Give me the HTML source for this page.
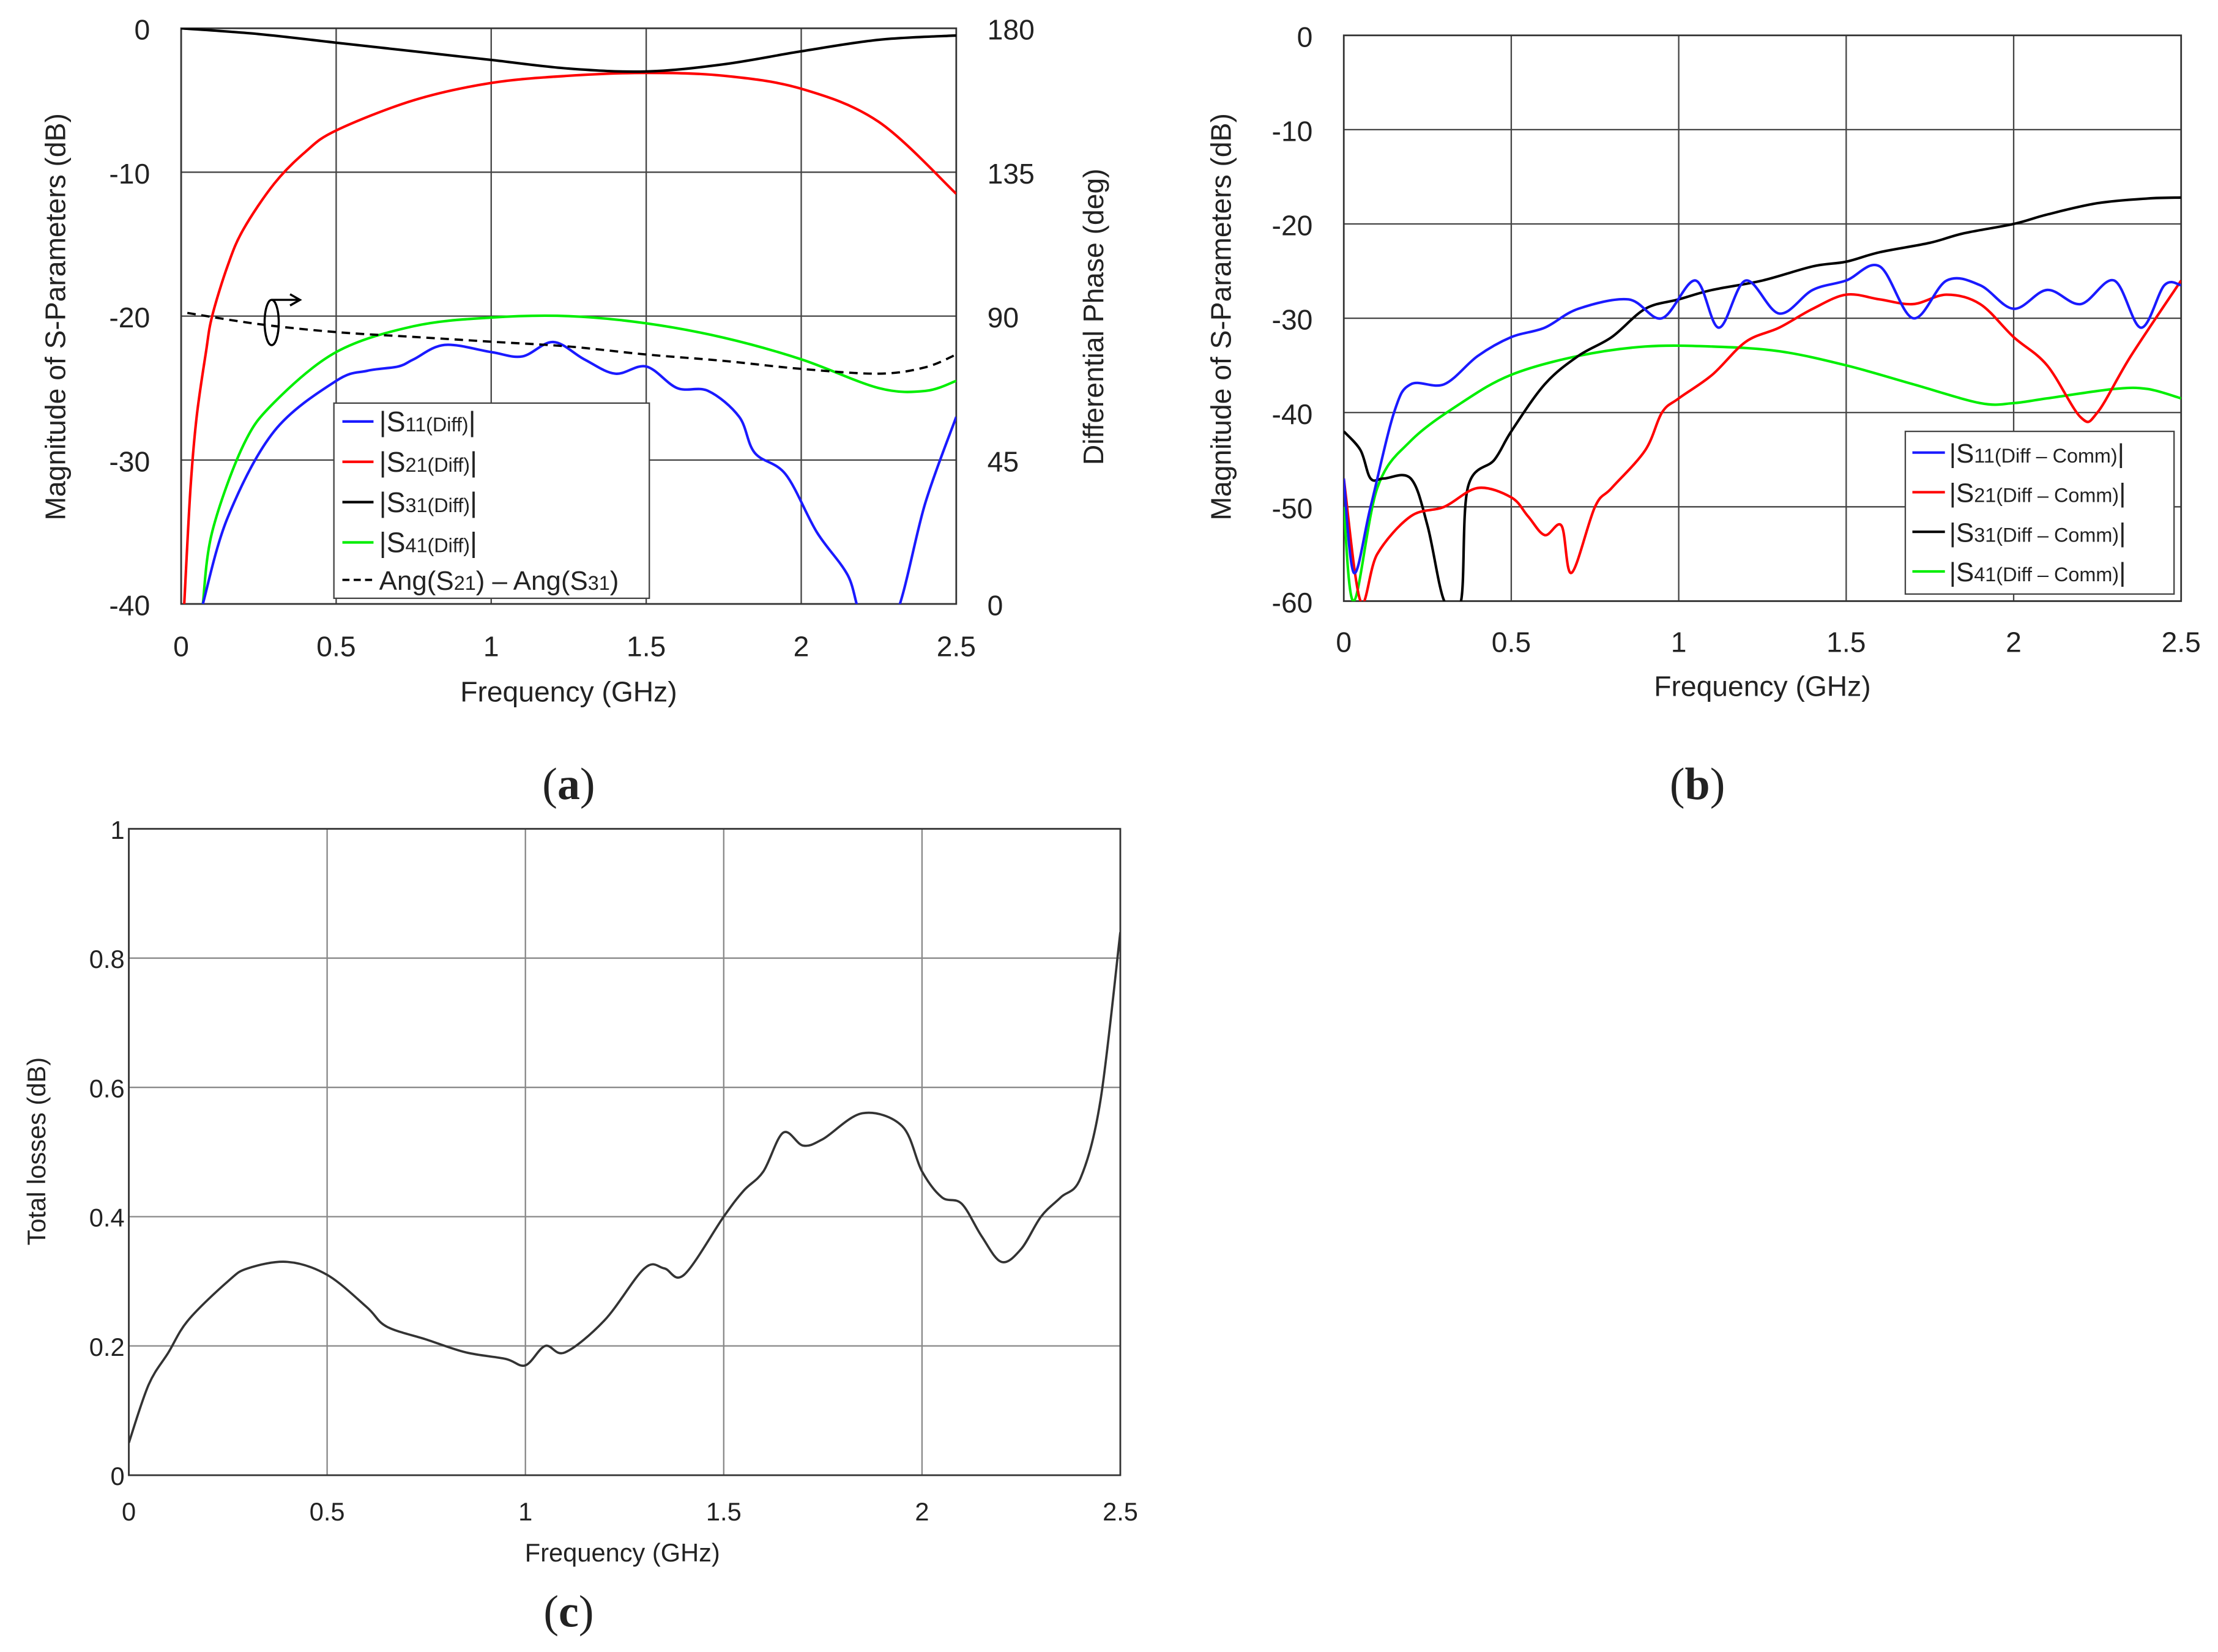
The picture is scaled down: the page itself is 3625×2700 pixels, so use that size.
<!DOCTYPE html>
<html><head><meta charset="utf-8"><style>
html,body{margin:0;padding:0;background:#fff;}
svg{display:block;}
text{font-family:"Liberation Sans",Arial,sans-serif;fill:#222;}
text.serif{font-family:"Liberation Serif","Times New Roman",serif;}
</style></head><body>
<svg id="fig" width="3625" height="2700" viewBox="0 0 1568 1168" xmlns="http://www.w3.org/2000/svg"></svg>
<script>
// ---- chart (a) data ----
const aS21X=[0.01,0.03,0.05,0.08,0.1,0.15,0.2,0.3,0.4,0.5,0.75,1.0,1.25,1.5,1.75,2.0,2.25,2.5];
const aS21Y=[-40,-32,-27,-22.5,-20,-16.5,-14,-10.8,-8.6,-7.1,-5,-3.8,-3.3,-3.1,-3.3,-4.2,-6.5,-11.5];
const aS31X=[0,0.25,0.5,0.75,1.0,1.25,1.5,1.75,2.0,2.25,2.5];
const aS31Y=[0,-0.4,-1,-1.6,-2.2,-2.8,-3.0,-2.5,-1.6,-0.8,-0.5];
const aS41X=[0.07,0.1,0.2,0.3,0.5,0.75,1.0,1.25,1.5,1.75,2.0,2.25,2.4,2.5];
const aS41Y=[-40,-35,-29,-26,-22.5,-20.7,-20.1,-20,-20.5,-21.5,-23,-25,-25.2,-24.5];
const aS11X=[0.07,0.15,0.3,0.5,0.6,0.7,0.75,0.85,1.0,1.1,1.2,1.3,1.4,1.5,1.6,1.7,1.8,1.85,1.95,2.05,2.15,2.2,2.3,2.4,2.5];
const aS11Y=[-40,-34,-28,-24.5,-23.8,-23.5,-23,-22,-22.5,-22.8,-21.8,-23,-24,-23.5,-25,-25.2,-27,-29.5,-31,-35,-38,-41,-41,-33,-27];
const aPhX=[0.02,0.25,0.5,0.75,1.0,1.25,1.5,1.75,2.0,2.25,2.4,2.5];
const aPhY=[91,87.5,85,83.5,82,80.5,78,76,73.5,72,74,78];
const aXTicks=["0","0.5","1","1.5","2","2.5"];
const aYTicks=["0","-10","-20","-30","-40"];
const aY2Ticks=["180","135","90","45","0"];
// ---- chart (b) data ----
const bS11X=[0,0.03,0.08,0.15,0.2,0.3,0.4,0.5,0.6,0.7,0.85,0.95,1.05,1.12,1.2,1.3,1.4,1.5,1.6,1.7,1.8,1.9,2.0,2.1,2.2,2.3,2.38,2.45,2.5];
const bS11Y=[-47,-57,-50,-40,-37,-37,-34,-32,-31,-29,-28,-30,-26,-31,-26,-29.5,-27,-26,-24.5,-30,-26,-26.5,-29,-27,-28.5,-26,-31,-26.5,-26.5];
const bS21X=[0,0.05,0.1,0.2,0.3,0.4,0.5,0.55,0.6,0.65,0.68,0.75,0.8,0.9,0.95,1.0,1.1,1.2,1.3,1.4,1.5,1.6,1.7,1.8,1.9,2.0,2.1,2.2,2.25,2.35,2.5];
const bS21Y=[-47,-60,-55,-51,-50,-48,-49,-51,-53,-52,-57,-50,-48,-44,-40,-38.5,-36,-32.5,-31,-29,-27.5,-28,-28.5,-27.5,-28.5,-32,-35,-40.5,-40,-34,-26];
const bS31X=[0,0.05,0.08,0.12,0.2,0.25,0.3,0.35,0.37,0.45,0.5,0.6,0.7,0.8,0.9,1.0,1.1,1.25,1.4,1.5,1.6,1.75,1.85,2.0,2.1,2.25,2.4,2.5];
const bS31Y=[-42,-44,-47,-47,-47,-52,-60,-60,-48,-45,-42,-37,-34,-32,-29,-28,-27,-26,-24.5,-24,-23,-22,-21,-20,-19,-17.8,-17.3,-17.2];
const bS41X=[0,0.03,0.1,0.2,0.35,0.5,0.7,0.9,1.1,1.3,1.5,1.7,1.9,2.0,2.1,2.3,2.4,2.5];
const bS41Y=[-50,-60,-48,-43,-39,-36,-34,-33,-33,-33.5,-35,-37,-39,-39,-38.5,-37.5,-37.5,-38.5];
const bXTicks=["0","0.5","1","1.5","2","2.5"];
const bYTicks=["0","-10","-20","-30","-40","-50","-60"];
// ---- chart (c) data ----
const cX=[0,0.05,0.1,0.15,0.25,0.3,0.4,0.5,0.6,0.65,0.75,0.85,0.95,1.0,1.05,1.1,1.2,1.3,1.35,1.4,1.5,1.55,1.6,1.65,1.7,1.75,1.85,1.95,2.0,2.05,2.1,2.15,2.2,2.25,2.3,2.35,2.4,2.45,2.5];
const cY=[0.05,0.14,0.19,0.24,0.30,0.32,0.33,0.31,0.26,0.23,0.21,0.19,0.18,0.17,0.2,0.19,0.24,0.32,0.32,0.31,0.4,0.44,0.47,0.53,0.51,0.52,0.56,0.54,0.47,0.43,0.42,0.37,0.33,0.35,0.4,0.43,0.46,0.58,0.84];
const cXTicks=["0","0.5","1","1.5","2","2.5"];
const cYTicks=["0","0.2","0.4","0.6","0.8","1"];

const NS="http://www.w3.org/2000/svg";
const svg=document.getElementById('fig');
function mk(tag,attrs,parent){const e=document.createElementNS(NS,tag);for(const k in attrs)e.setAttribute(k,attrs[k]);(parent||svg).appendChild(e);return e;}
function txt(s,x,y,size,anchor,parent,rot){const t=mk('text',{x:x,y:y,'font-size':size,'text-anchor':anchor||'middle'},parent);if(rot)t.setAttribute('transform','rotate(-90 '+x+' '+y+')');t.textContent=s;return t;}

function panel(name,L,T,R,B,xmin,xmax,ymin,ymax,nx,ny,gridColor){
  const g=mk('g',{});
  
  
  const sx=v=>L+(v-xmin)/(xmax-xmin)*(R-L);
  const sy=v=>B-(v-ymin)/(ymax-ymin)*(B-T);
  for(let i=0;i<=nx;i++){const x=L+i*(R-L)/nx;mk('line',{x1:x,y1:T,x2:x,y2:B,stroke:gridColor,'stroke-width':1},g);}
  for(let j=0;j<=ny;j++){const y=T+j*(B-T)/ny;mk('line',{x1:L,y1:y,x2:R,y2:y,stroke:gridColor,'stroke-width':1},g);}
  const fr=mk('rect',{x:L,y:T,width:R-L,height:B-T,fill:'none',stroke:'#333','stroke-width':1.2},g);
  
  
  const cid=name+'-clip';
  const cp=mk('clipPath',{id:cid},g);mk('rect',{x:L,y:T,width:R-L,height:B-T},cp);
  return {g,sx,sy,cid};
}
function series(p,xs,ys,color,name,width,dash){
  const P=xs.map((x,i)=>[p.sx(x),p.sy(ys[i])]);
  let d='M'+P[0][0].toFixed(2)+','+P[0][1].toFixed(2);
  const t=0.5/3;
  for(let i=0;i<P.length-1;i++){
    const p0=P[Math.max(0,i-1)],p1=P[i],p2=P[i+1],p3=P[Math.min(P.length-1,i+2)];
    const c1=[p1[0]+(p2[0]-p0[0])*t,p1[1]+(p2[1]-p0[1])*t];
    const c2=[p2[0]-(p3[0]-p1[0])*t,p2[1]-(p3[1]-p1[1])*t];
    d+='C'+c1[0].toFixed(2)+','+c1[1].toFixed(2)+' '+c2[0].toFixed(2)+','+c2[1].toFixed(2)+' '+p2[0].toFixed(2)+','+p2[1].toFixed(2);
  }
  const e=mk('path',{d:d,fill:'none',stroke:color,'stroke-width':width||1.8,'clip-path':'url(#'+p.cid+')','stroke-linejoin':'round'},p.g);
  if(dash)e.setAttribute('stroke-dasharray',dash);
  
  
}
function caption(letter,x,y,parent){
  const t=mk('text',{x:x,y:y,'font-size':32,'text-anchor':'middle','class':'serif'},parent);
  t.innerHTML='(<tspan font-weight="bold">'+letter+'</tspan>)';
  
  
}

// ===== (a) =====
const pa=panel('chart-a',128,20,676,427,0,2.5,-40,0,5,4,'#444');
series(pa,aS21X,aS21Y,'#ff0000','series-a-s21');
series(pa,aS31X,aS31Y,'#000','series-a-s31');
series(pa,aS41X,aS41Y,'#00ee00','series-a-s41');
series(pa,aS11X,aS11Y,'#1a1aff','series-a-s11');
series(pa,aPhX,aPhY.map(v=>v/180*40-40),'#000','series-a-phase',1.6,'6,4');
aXTicks.forEach((s,i)=>{txt(s,128+i*109.6,464,20,'middle',pa.g);});
aYTicks.forEach((s,i)=>{txt(s,106,28+i*101.75,20,'end',pa.g);});
aY2Ticks.forEach((s,i)=>{txt(s,698,28+i*101.75,20,'start',pa.g);});
txt('Frequency (GHz)',402,496,20,'middle',pa.g);
txt('Magnitude of S-Parameters (dB)',46,224,20,'middle',pa.g,true);
txt('Differential Phase (deg)',780,224,20,'middle',pa.g,true);
mk('ellipse',{cx:192,cy:228,rx:5,ry:16,fill:'none',stroke:'#000','stroke-width':1.5},pa.g);
mk('path',{d:'M192,212 L212,212 M205,208 L212,212 L205,216',fill:'none',stroke:'#000','stroke-width':1.5},pa.g);
const la=mk('g',{},pa.g);
mk('rect',{x:236,y:285,width:223,height:138,fill:'#fff',stroke:'#444','stroke-width':1},la);
[['#1a1aff','11'],['#ff0000','21'],['#000','31'],['#00ee00','41']].forEach((e,i)=>{
  const y=298+i*28.5;
  const le=mk('g',{},la);
  mk('line',{x1:242,y1:y,x2:264,y2:y,stroke:e[0],'stroke-width':1.8},le);
  const t=mk('text',{x:268,y:y+7,'font-size':20},le);t.innerHTML='|S<tspan font-size="14">'+e[1]+'(Diff)</tspan>|';
});
mk('line',{x1:242,y1:410,x2:264,y2:410,stroke:'#000','stroke-width':1.6,'stroke-dasharray':'5,3'},la);
const ta=mk('text',{x:268,y:417,'font-size':19},la);ta.innerHTML='Ang(S<tspan font-size="14">21</tspan>) – Ang(S<tspan font-size="14">31</tspan>)';
caption('a',402,565,pa.g);

// ===== (b) =====
const pb=panel('chart-b',950,25,1542,425,0,2.5,-60,0,5,6,'#444');
series(pb,bS41X,bS41Y,'#00ee00','series-b-s41');
series(pb,bS31X,bS31Y,'#000','series-b-s31');
series(pb,bS21X,bS21Y,'#ff0000','series-b-s21');
series(pb,bS11X,bS11Y,'#1a1aff','series-b-s11');
bXTicks.forEach((s,i)=>{txt(s,950+i*118.4,461,20,'middle',pb.g);});
bYTicks.forEach((s,i)=>{txt(s,928,33+i*66.67,20,'end',pb.g);});
txt('Frequency (GHz)',1246,492,20,'middle',pb.g);
txt('Magnitude of S-Parameters (dB)',870,224,20,'middle',pb.g,true);
const lb=mk('g',{},pb.g);
mk('rect',{x:1347,y:305,width:190,height:115,fill:'#fff',stroke:'#444','stroke-width':1},lb);
[['#1a1aff','11'],['#ff0000','21'],['#000','31'],['#00ee00','41']].forEach((e,i)=>{
  const y=320+i*28;
  const le=mk('g',{},lb);
  mk('line',{x1:1352,y1:y,x2:1375,y2:y,stroke:e[0],'stroke-width':1.8},le);
  const t=mk('text',{x:1378,y:y+7,'font-size':19},le);t.innerHTML='|S<tspan font-size="14">'+e[1]+'(Diff – Comm)</tspan>|';
});
caption('b',1200,565,pb.g);

// ===== (c) =====
const pc=panel('chart-c',91,586,792,1043,0,2.5,0,1,5,5,'#888');
series(pc,cX,cY,'#333','series-c-total-loss',1.6);
cXTicks.forEach((s,i)=>{txt(s,91+i*140.2,1075,18,'middle',pc.g);});
cYTicks.forEach((s,i)=>{txt(s,88,1050-i*91.4,18,'end',pc.g);});
txt('Frequency (GHz)',440,1104,18,'middle',pc.g);
txt('Total losses (dB)',32,814,18,'middle',pc.g,true);
caption('c',402,1150,pc.g);
</script>
</body></html>
